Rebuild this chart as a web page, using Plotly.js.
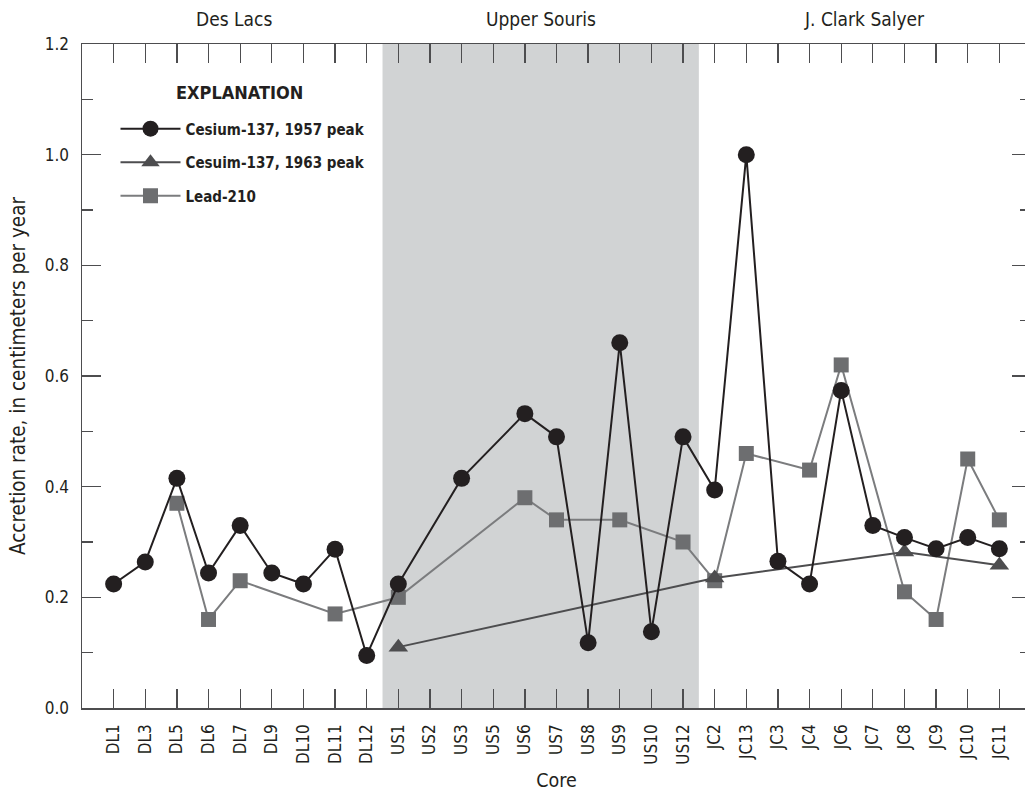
<!DOCTYPE html>
<html>
<head>
<meta charset="utf-8">
<script src="https://cdn.plot.ly/plotly-3.0.1.min.js"></script>
<style>
  html, body { margin: 0; padding: 0; overflow: hidden; background: #fff; }
  #chart { width: 1045px; height: 792px; }
</style>
</head>
<body>
<div id="chart"></div>
<script>
// Core identifiers, grouped by refuge
const cores = ['DL1','DL3','DL5','DL6','DL7','DL9','DL10','DL11','DL12',
               'US1','US2','US3','US5','US6','US7','US8','US9','US10','US12',
               'JC2','JC13','JC3','JC4','JC6','JC7','JC8','JC9','JC10','JC11'];

// Accretion rates, in centimeters per year (null = not dated)
const cs137_1957 = [0.224,0.264,0.415,0.244,0.33,0.244,0.224,0.287,0.095,
                    0.224,null,0.415,null,0.532,0.49,0.118,0.66,0.138,0.49,
                    0.394,1.0,0.265,0.224,0.574,0.33,0.308,0.288,0.308,0.288];
const cs137_1963 = [null,null,null,null,null,null,null,null,null,
                    0.11,null,null,null,null,null,null,null,null,null,
                    0.235,null,null,null,null,null,0.282,null,null,0.258];
const pb210      = [null,null,0.37,0.16,0.23,null,null,0.17,null,
                    0.2,null,null,null,0.38,0.34,null,0.34,null,0.3,
                    0.23,0.46,null,0.43,0.62,null,0.21,0.16,0.45,0.34];

// Refuge groups: label, span of cores covered, and a small nudge of the label
const groupNames = ['Des Lacs', 'Upper Souris', 'J. Clark Salyer'];
const groupFirst = ['DL1', 'US1', 'JC2'];
const groupLast  = ['DL12', 'US12', 'JC11'];
const groupNudge = [-0.2, 0, 0.24];

const FONT = '"Liberation Sans Narrow", "DejaVu Sans Condensed", "Arial Narrow", sans-serif';
const INK = '#231f20';

const traces = [
  {
    x: cores, y: pb210, name: 'Lead-210', type: 'scatter', mode: 'lines+markers',
    connectgaps: true, legendrank: 3, legendgroup: 'c',
    line: { color: '#7b7c7e', width: 2 },
    marker: { symbol: 'square', size: 15, color: '#6d6e70', line: { width: 0 } }
  },
  {
    x: cores, y: cs137_1963, name: 'Cesuim-137, 1963 peak', type: 'scatter', mode: 'lines+markers',
    connectgaps: true, legendrank: 2, legendgroup: 'b',
    line: { color: '#4d4d4f', width: 2 },
    marker: { symbol: 'triangle-up', size: 17, color: '#4d4d4f', line: { width: 0 } }
  },
  {
    x: cores, y: cs137_1957, name: 'Cesium-137, 1957 peak', type: 'scatter', mode: 'lines+markers',
    connectgaps: true, legendrank: 1, legendgroup: 'a',
    line: { color: INK, width: 2 },
    marker: { symbol: 'circle', size: 17, color: INK, line: { width: 0 } }
  }
];

// Shaded band behind the Upper Souris cores
const iUS0 = cores.indexOf(groupFirst[1]);
const iUS1 = cores.indexOf(groupLast[1]);
const shapes = [{
  type: 'rect', xref: 'x', yref: 'paper', layer: 'below',
  x0: iUS0 - 0.5, x1: iUS1 + 0.5, y0: 0, y1: 1,
  fillcolor: '#d1d3d4', line: { width: 0 }
}];

const annotations = groupNames.map((name, k) => ({
  text: name, xref: 'x', yref: 'paper',
  x: (cores.indexOf(groupFirst[k]) + cores.indexOf(groupLast[k])) / 2 + groupNudge[k],
  y: 1.038, xanchor: 'center', yanchor: 'middle', showarrow: false,
  font: { family: FONT, size: 19, color: INK }
}));

// Legend heading
annotations.push({
  text: '<b>EXPLANATION</b>', xref: 'paper', yref: 'paper',
  x: 0.1655, y: 0.927, xanchor: 'center', yanchor: 'middle', showarrow: false,
  font: { family: FONT, size: 18, color: INK }
});

const layout = {
  width: 1045, height: 792,
  margin: { l: 82, r: 14, t: 43.5, b: 84 },
  paper_bgcolor: '#fff', plot_bgcolor: 'rgba(0,0,0,0)',
  font: { family: FONT, color: INK, size: 17 },
  showlegend: true,
  legend: {
    x: 0.0353, y: 0.897, xanchor: 'left', yanchor: 'top',
    bgcolor: 'rgba(0,0,0,0)', borderwidth: 0,
    traceorder: 'grouped', tracegroupgap: 11, itemwidth: 60,
    font: { family: FONT, size: 15, color: INK, weight: 'bold' }
  },
  xaxis: {
    type: 'category', categoryorder: 'array', categoryarray: cores,
    range: [-1, cores.length],
    showline: true, linecolor: '#4d4d4f', linewidth: 1.5, mirror: 'ticks',
    ticks: 'inside', ticklen: 19, tickwidth: 1.3, tickcolor: '#4d4d4f',
    tickangle: -90, ticklabelstandoff: 8,
    showgrid: false, zeroline: false,
    tickfont: { family: FONT, size: 17, color: INK },
    title: { text: 'Core', standoff: 14, font: { family: FONT, size: 19.5, color: INK } }
  },
  yaxis: {
    range: [0, 1.2], dtick: 0.2, tickformat: '.1f',
    showline: true, linecolor: '#4d4d4f', linewidth: 1.5, mirror: 'ticks',
    ticks: 'inside', ticklen: 19, tickwidth: 1.3, tickcolor: '#4d4d4f',
    ticklabelstandoff: 8,
    minor: { dtick: 0.1, ticks: 'inside', ticklen: 11, tickwidth: 1.3, tickcolor: '#4d4d4f', showgrid: false },
    showgrid: false, zeroline: false,
    tickfont: { family: FONT, size: 17, color: INK },
    title: { text: 'Accretion rate, in centimeters per year', standoff: 13,
             font: { family: FONT, size: 20.5, color: INK } }
  },
  shapes: shapes,
  annotations: annotations
};

Plotly.newPlot('chart', traces, layout, { staticPlot: true, displayModeBar: false });
</script>
</body>
</html>
